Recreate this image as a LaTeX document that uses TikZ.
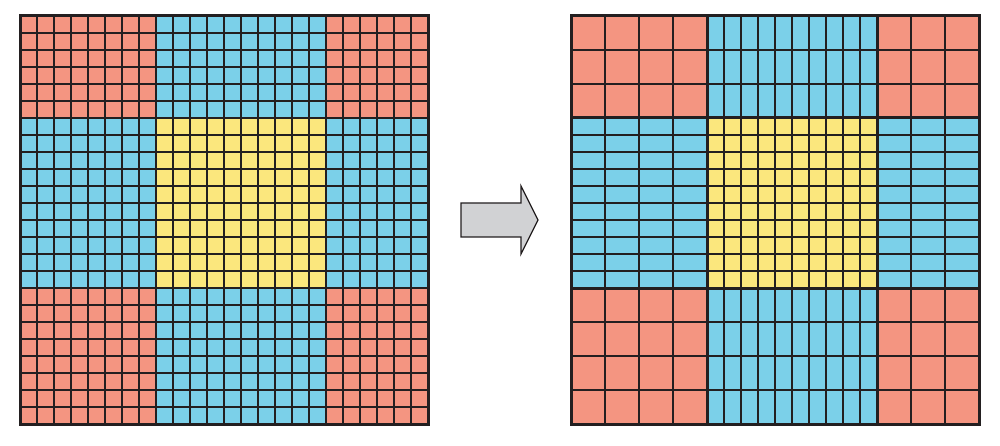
\documentclass[tikz,border=0pt]{standalone}
\definecolor{cred}{HTML}{F49581}
\definecolor{cblue}{HTML}{7BD0E9}
\definecolor{cyel}{HTML}{FBE77D}
\definecolor{cline}{HTML}{231F20}
\definecolor{carrow}{HTML}{D1D2D4}
\begin{document}
\begin{tikzpicture}[x=1pt,y=-1pt,
  gridline/.style={draw=cline,line width=1.25pt},
  heavyline/.style={draw=cline,line width=3pt},
  arrowshape/.style={fill=carrow,draw=cline,line width=1.2pt,line join=miter}]
\useasboundingbox (0,0) rectangle (1000,446);
% ---------- left grid ----------
\begin{scope}[shift={(20,16)}]
  \fill[cred] (0,0) rectangle (408,408);
  \fill[cblue] (136,0) rectangle (306,408);
  \fill[cblue] (0,102) rectangle (408,272);
  \fill[cyel] (136,102) rectangle (306,272);
  \foreach \i in {1,...,23} {
    \draw[gridline] ({17*\i},0) -- ({17*\i},408);
    \draw[gridline] (0,{17*\i}) -- (408,{17*\i});
  }
  \draw[heavyline] (0,0) rectangle (408,408);
\end{scope}
% ---------- right grid ----------
\begin{scope}[shift={(571,16)}]
  \fill[cred] (0,0) rectangle (408,408);
  \fill[cblue] (136,0) rectangle (306,408);
  \fill[cblue] (0,102) rectangle (408,272);
  \fill[cyel] (136,102) rectangle (306,272);
  \foreach \xa/\xb/\ya/\yb/\sx/\sy in {
      0/136/0/102/34/34, 136/306/0/102/17/34, 306/408/0/102/34/34,
      0/136/102/272/34/17, 136/306/102/272/17/17, 306/408/102/272/34/17,
      0/136/272/408/34/34, 136/306/272/408/17/34, 306/408/272/408/34/34} {
    \pgfmathtruncatemacro\nx{(\xb-\xa)/\sx}
    \pgfmathtruncatemacro\ny{(\yb-\ya)/\sy}
    \foreach \k in {1,...,\nx} {
      \draw[gridline] ({\xa+\k*\sx},\ya) -- ({\xa+\k*\sx},\yb);
    }
    \foreach \k in {1,...,\ny} {
      \draw[gridline] (\xa,{\ya+\k*\sy}) -- (\xb,{\ya+\k*\sy});
    }
  }
  \draw[heavyline] (136,0) -- (136,408);
  \draw[heavyline] (306,0) -- (306,408);
  \draw[heavyline] (0,102) -- (408,102);
  \draw[heavyline] (0,272) -- (408,272);
  \draw[heavyline] (0,0) rectangle (408,408);
\end{scope}
% ---------- arrow ----------
\draw[arrowshape] (461,203) -- (521,203) -- (521,186) -- (538,220)
  -- (521,254) -- (521,237) -- (461,237) -- cycle;
\end{tikzpicture}
\end{document}
